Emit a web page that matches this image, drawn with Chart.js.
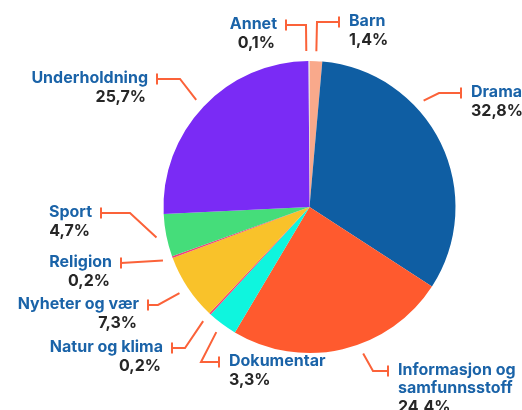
<!DOCTYPE html>
<html>
<head>
<meta charset="utf-8">
<script src="https://cdn.jsdelivr.net/npm/chart.js@4"></script>
<style>
  html, body { margin: 0; padding: 0; background: #fff; }
  canvas { display: block; }
</style>
</head>
<body>
<canvas id="pieChart" width="522" height="410"></canvas>
<script>
const categories = ['Barn', 'Drama', 'Informasjon og samfunnsstoff', 'Dokumentar', 'Natur og klima',
                    'Nyheter og vær', 'Religion', 'Sport', 'Underholdning', 'Annet'];
const shares = [1.4, 32.8, 24.4, 3.3, 0.2, 7.3, 0.2, 4.7, 25.7, 0.1];
const sliceColors = ['#f9a98b', '#0f5ea3', '#ff5a2e', '#0ff5de', '#f0457a',
                     '#f9c22a', '#f0457a', '#45dd7a', '#7a2bf5', '#e2e2e2'];

// hand placed label boxes: elbow + end tick of each leader, angle nudge in degrees
const labelLayout = [
    { elbow: [317, 22], tick: [339, 22], side: 'right' },
    { elbow: [439, 93], tick: [461, 93], side: 'right', nudge: -17 },
    { elbow: [373, 371], tick: [388, 371], side: 'right', nudge: -7 },
    { elbow: [201, 362], tick: [219, 362], side: 'right' },
    { elbow: [185, 348], tick: [172, 348], side: 'left' },
    { elbow: [158, 305], tick: [148, 305], side: 'left' },
    { elbow: null, tick: [121, 263], side: 'left' },
    { elbow: [130, 213], tick: [101, 213], side: 'left' },
    { elbow: [180, 79], tick: [157, 79], side: 'left' },
    { elbow: [306, 25], tick: [286, 25], side: 'left', nudge: -1 }
];

const leaderColor = '#fb6239';
const nameColor = '#1a63a8';
const valueColor = '#262626';

function wrapText(ctx, text, maxWidth) {
    const words = text.split(' ');
    const lines = [];
    let line = '';
    words.forEach(w => {
        const test = line ? line + ' ' + w : w;
        if (line && ctx.measureText(test).width > maxWidth) {
            lines.push(line);
            line = w;
        } else {
            line = test;
        }
    });
    lines.push(line);
    return lines;
}

const leaderLabels = {
    id: 'leaderLabels',
    afterDraw(chart) {
        const ctx = chart.ctx;
        const arcs = chart.getDatasetMeta(0).data;
        ctx.save();
        arcs.forEach((arc, i) => {
            const lay = labelLayout[i];
            const p = arc.getProps(['x', 'y', 'startAngle', 'endAngle', 'outerRadius'], true);
            const mid = (p.startAngle + p.endAngle) / 2 + (lay.nudge || 0) * Math.PI / 180;
            const r = p.outerRadius + 10;
            const sx = p.x + Math.cos(mid) * r;
            const sy = p.y + Math.sin(mid) * r;

            ctx.strokeStyle = leaderColor;
            ctx.lineWidth = 2;
            ctx.lineJoin = 'miter';
            ctx.beginPath();
            ctx.moveTo(sx, sy);
            if (lay.elbow) ctx.lineTo(lay.elbow[0], lay.elbow[1]);
            ctx.lineTo(lay.tick[0], lay.tick[1]);
            ctx.stroke();
            ctx.beginPath();
            ctx.moveTo(lay.tick[0], lay.tick[1] - 5.5);
            ctx.lineTo(lay.tick[0], lay.tick[1] + 5.5);
            ctx.stroke();

            const right = lay.side === 'right';
            const tx = right ? lay.tick[0] + 10 : lay.tick[0] - 9;
            ctx.textAlign = right ? 'left' : 'right';
            ctx.textBaseline = 'middle';
            ctx.font = 'bold 16px Inter';
            ctx.fillStyle = nameColor;
            const maxW = right ? chart.width - tx - 1 : tx - 1;
            const lines = wrapText(ctx, chart.data.labels[i], maxW);
            let y = lay.tick[1] - 1;
            lines.forEach(l => {
                ctx.fillText(l, tx, y);
                y += 18;
            });
            ctx.font = 'bold 16px Inter';
            ctx.fillStyle = valueColor;
            const txt = chart.data.datasets[0].data[i].toFixed(1).replace('.', ',') + '%';
            ctx.fillText(txt, right ? tx : tx - 2, y + 1);
        });
        ctx.restore();
    }
};

new Chart(document.getElementById('pieChart').getContext('2d'), {
    type: 'pie',
    data: {
        labels: categories,
        datasets: [{
            data: shares,
            backgroundColor: sliceColors,
            borderWidth: 0
        }]
    },
    options: {
        responsive: false,
        animation: false,
        layout: {
            padding: { left: 163.5, right: 66.5, top: 61, bottom: 57 }
        },
        plugins: {
            legend: { display: false },
            tooltip: { enabled: false }
        }
    },
    plugins: [leaderLabels]
});
</script>
</body>
</html>
